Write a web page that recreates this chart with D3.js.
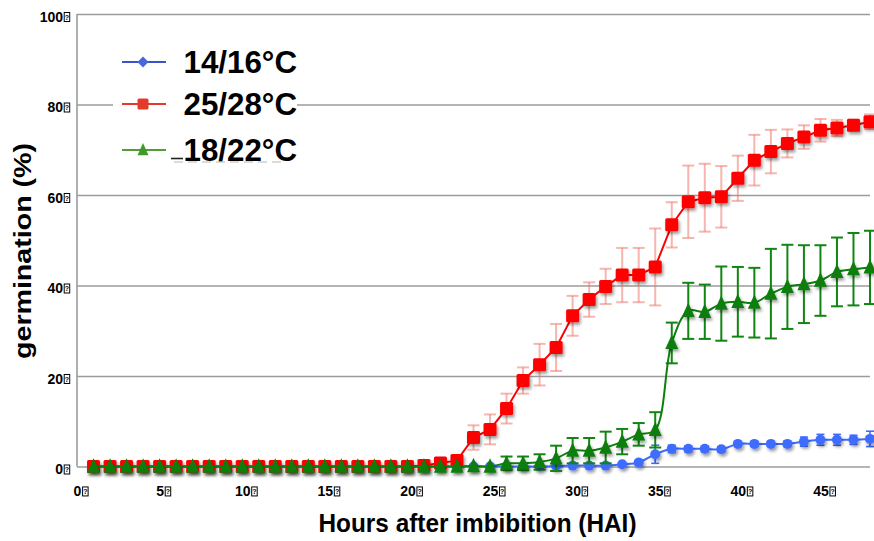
<!DOCTYPE html>
<html>
<head>
<meta charset="utf-8">
<script src="https://cdn.jsdelivr.net/npm/d3@7"></script>
<style>
  body { margin: 0; background: #fff; }
  svg { display: block; font-family: "Liberation Sans", Arial, sans-serif; }
</style>
</head>
<body>
<svg id="chart" width="874" height="541"></svg>
<script>
// Hours after imbibition (one reading per hour)
const hours = [1, 2, 3, 4, 5, 6, 7, 8, 9, 10, 11, 12, 13, 14, 15, 16, 17, 18, 19, 20, 21, 22, 23, 24,
               25, 26, 27, 28, 29, 30, 31, 32, 33, 34, 35, 36, 37, 38, 39, 40, 41, 42, 43, 44, 45, 46, 47, 48];
const xTicks = [0, 5, 10, 15, 20, 25, 30, 35, 40, 45];
const yTicks = [0, 20, 40, 60, 80, 100];
const seriesNames = ["14/16°C", "25/28°C", "18/22°C"];

// 14/16°C germination (%) and error
const mean1416 = [0, 0, 0, 0, 0, 0, 0, 0, 0, 0, 0, 0, 0, 0, 0, 0, 0, 0, 0, 0, 0, 0, 0, 0,
                  0, 0, 0, 0, 0.1, 0.2, 0.2, 0.2, 0.5, 0.9, 2.7, 3.9, 3.9, 3.9, 3.8, 5.0, 5.0, 5.0, 5.0, 5.5, 5.9, 5.9, 5.9, 6.1];
const err1416  = [0, 0, 0, 0, 0, 0, 0, 0, 0, 0, 0, 0, 0, 0, 0, 0, 0, 0, 0, 0, 0, 0, 0, 0,
                  0, 0, 0, 0, 0, 0, 0, 0, 0.3, 0.6, 2.0, 0.8, 0.6, 0.6, 0.6, 0.5, 0.5, 0.5, 0.6, 1.0, 1.2, 1.2, 1.0, 1.7];

// 25/28°C germination (%) and error
const mean2528 = [0, 0, 0, 0, 0, 0, 0, 0, 0, 0, 0, 0, 0, 0, 0, 0, 0, 0, 0, 0, 0.2, 0.8, 1.3, 6.4,
                  8.2, 12.8, 19.0, 22.5, 26.3, 33.3, 36.9, 39.8, 42.3, 42.3, 44.1, 53.4, 58.5, 59.4, 59.6, 63.7, 67.7, 69.6, 71.4, 72.8, 74.3, 74.8, 75.4, 76.2];
const err2528  = [0, 0, 0, 0, 0, 0, 0, 0, 0, 0, 0, 0, 0, 0, 0, 0, 0, 0, 0, 0, 0.2, 0.5, 1.1, 2.7,
                  3.3, 3.3, 2.9, 4.6, 5.2, 4.4, 3.8, 3.9, 6.0, 6.0, 8.5, 5.0, 8.0, 7.5, 6.8, 5.0, 5.6, 4.8, 3.1, 2.6, 2.5, 1.8, 1.2, 1.6];

// 18/22°C germination (%) and error
const mean1822 = [0, 0, 0, 0, 0, 0, 0, 0, 0, 0, 0, 0, 0, 0, 0, 0, 0, 0, 0, 0, 0, 0, 0, 0.1,
                  0, 0.7, 0.7, 1.0, 1.8, 3.5, 3.5, 4.2, 5.5, 7.1, 8.1, 27.3, 34.4, 34.2, 36.0, 36.4, 36.2, 38.2, 39.7, 40.3, 41.1, 43.0, 43.6, 44.0];
const err1822  = [0, 0, 0, 0, 0, 0, 0, 0, 0, 0, 0, 0, 0, 0, 0, 0, 0, 0, 0, 0, 0, 0, 0, 0,
                  0, 1.5, 1.5, 1.7, 2.8, 2.8, 2.8, 3.5, 2.8, 2.5, 3.9, 4.5, 6.2, 6.0, 8.2, 7.7, 7.7, 9.9, 9.3, 8.6, 7.8, 7.6, 8.0, 8.1];

const svg = d3.select("#chart");
const x = d3.scaleLinear().domain([0, 48]).range([77, 870]);
const y = d3.scaleLinear().domain([0, 100]).range([466.5, 14]);

// Marker shadow
const defs = svg.append("defs");
const f = defs.append("filter").attr("id", "shadow")
  .attr("x", "-50%").attr("y", "-50%").attr("width", "200%").attr("height", "200%");
f.append("feDropShadow").attr("dx", 1.5).attr("dy", 2.5).attr("stdDeviation", 1.4)
  .attr("flood-color", "#000").attr("flood-opacity", 0.4);

// Small "unknown glyph" box drawn after each tick number
function addGlyphBox(sel) {
  sel.each(function () {
    const t = d3.select(this);
    const bb = this.getBBox();
    const g = d3.select(this.parentNode);
    const bx = bb.x + bb.width + 0.5;
    const by = bb.y + bb.height - 12.5;
    g.append("rect").attr("x", bx + 0.5).attr("y", by + 0.5).attr("width", 5.5).attr("height", 9)
      .attr("fill", "none").attr("stroke", "#000").attr("stroke-width", 1);
    g.append("text").attr("x", bx + 3.25).attr("y", by + 7.8).attr("text-anchor", "middle")
      .attr("font-size", 7).attr("font-weight", "bold").attr("fill", "#000").text("?");
  });
}

// Y axis with horizontal gridlines
const yAxis = svg.append("g").attr("transform", "translate(77,0)")
  .call(d3.axisLeft(y).tickValues(yTicks).tickSize(-793).tickPadding(14).tickFormat(d3.format("d")));
yAxis.select(".domain").remove();
yAxis.selectAll(".tick line").attr("stroke", "#9b9b9b").attr("stroke-width", 1.6);
yAxis.selectAll(".tick text").attr("font-size", 14).attr("font-weight", "bold").attr("fill", "#000")
  .attr("dy", "0.5em").call(addGlyphBox);
svg.append("line").attr("x1", 77).attr("x2", 77).attr("y1", y(100)).attr("y2", y(0))
  .attr("stroke", "#9b9b9b").attr("stroke-width", 1.6);

// X axis labels
const xAxis = svg.append("g").attr("transform", `translate(0,${y(0)})`)
  .call(d3.axisBottom(x).tickValues(xTicks).tickSize(0).tickPadding(19.5).tickFormat(d3.format("d")));
xAxis.select(".domain").remove();
xAxis.selectAll(".tick text").attr("font-size", 14).attr("font-weight", "bold").attr("fill", "#000")
  .call(addGlyphBox);

// Axis titles
svg.append("text").attr("x", 477.5).attr("y", 532).attr("text-anchor", "middle")
  .attr("font-size", 26).attr("font-weight", "bold").attr("fill", "#000")
  .attr("textLength", 318).attr("lengthAdjust", "spacingAndGlyphs")
  .text("Hours after imbibition (HAI)");
svg.append("text").attr("transform", "translate(31,251) rotate(-90)").attr("text-anchor", "middle")
  .attr("font-size", 24.5).attr("font-weight", "bold").attr("fill", "#000")
  .attr("textLength", 216).attr("lengthAdjust", "spacingAndGlyphs")
  .text("germination (%)");

const series = [
  { name: seriesNames[0], mean: mean1416, err: err1416, line: "#3d6cff", mark: "#3d6cff", bar: "#3d6cff",
    barW: 1.6, cap: 8, shape: "circle", curve: d3.curveCatmullRom.alpha(0.5) },
  { name: seriesNames[1], mean: mean2528, err: err2528, line: "#ff0000", mark: "#ff0000", bar: "rgba(238,120,110,0.55)",
    barW: 2, cap: 12, shape: "square", curve: d3.curveLinear },
  { name: seriesNames[2], mean: mean1822, err: err1822, line: "#0b800b", mark: "#0b7d0b", bar: "#118511",
    barW: 2, cap: 12, shape: "triangle", curve: d3.curveCatmullRom.alpha(0.5) }
];

function drawMarker(g, shape, cx, cy, color, size) {
  if (shape === "circle") {
    g.append("circle").attr("cx", cx).attr("cy", cy).attr("r", size / 2).attr("fill", color);
  } else if (shape === "square") {
    g.append("rect").attr("x", cx - size / 2).attr("y", cy - size / 2).attr("width", size).attr("height", size)
      .attr("rx", 1.5).attr("fill", color);
  } else if (shape === "triangle") {
    const h = size * 1.05;
    g.append("path").attr("d", `M${cx},${cy - h * 0.6}L${cx + size / 2},${cy + h * 0.45}L${cx - size / 2},${cy + h * 0.45}Z`)
      .attr("fill", color);
  } else if (shape === "diamond") {
    const s = size / 2;
    g.append("path").attr("d", `M${cx},${cy - s}L${cx + s},${cy}L${cx},${cy + s}L${cx - s},${cy}Z`).attr("fill", color);
  }
}

const sizes = { circle: 10, square: 13, triangle: 13 };

series.forEach(s => {
  const g = svg.append("g");
  const pts = hours.map((h, i) => ({ h, v: s.mean[i], e: s.err[i] }));
  // error bars
  const eb = g.append("g");
  pts.filter(p => p.e > 0).forEach(p => {
    const cx = x(p.h), y1 = y(p.v + p.e), y2 = y(p.v - p.e);
    eb.append("line").attr("x1", cx).attr("x2", cx).attr("y1", y1).attr("y2", y2)
      .attr("stroke", s.bar).attr("stroke-width", s.barW);
    [y1, y2].forEach(yy => eb.append("line").attr("x1", cx - s.cap / 2).attr("x2", cx + s.cap / 2)
      .attr("y1", yy).attr("y2", yy).attr("stroke", s.bar).attr("stroke-width", s.barW));
  });
  // line
  g.append("path").datum(pts)
    .attr("d", d3.line().x(p => x(p.h)).y(p => y(p.v)).curve(s.curve))
    .attr("fill", "none").attr("stroke", s.line).attr("stroke-width", 2);
  // markers
  const mg = g.append("g").attr("filter", "url(#shadow)");
  pts.forEach(p => drawMarker(mg, s.shape, x(p.h), y(p.v), s.mark, sizes[s.shape]));
});

// Legend
const lg = svg.append("g");
lg.append("rect").attr("x", 113).attr("y", 40).attr("width", 184).attr("height", 128).attr("fill", "#fff");
const legendRows = [
  { name: seriesNames[0], cy: 62, color: "#3a55cc", mark: "#4a66dd", shape: "diamond", size: 11 },
  { name: seriesNames[1], cy: 104, color: "#e43a2a", mark: "#e43a2a", shape: "square", size: 11 },
  { name: seriesNames[2], cy: 150, color: "#4f9e3a", mark: "#3f9a2a", shape: "triangle", size: 11 }
];
legendRows.forEach(r => {
  lg.append("line").attr("x1", 122).attr("x2", 166).attr("y1", r.cy).attr("y2", r.cy)
    .attr("stroke", r.color).attr("stroke-width", 1.8);
  drawMarker(lg, r.shape, 143, r.cy, r.mark, r.size);
  lg.append("text").attr("x", 183.5).attr("y", r.cy + 11).attr("font-size", 32).attr("font-weight", "bold")
    .attr("fill", "#000").attr("textLength", 113.5).attr("lengthAdjust", "spacingAndGlyphs").text(r.name);
});
lg.append("line").attr("x1", 171).attr("x2", 183).attr("y1", 158.5).attr("y2", 158.5)
  .attr("stroke", "#222").attr("stroke-width", 1.6);
lg.append("line").attr("x1", 174).attr("x2", 286).attr("y1", 162).attr("y2", 162)
  .attr("stroke", "#b8b8b8").attr("stroke-width", 1.2).attr("stroke-dasharray", "9,5");
</script>
</body>
</html>
